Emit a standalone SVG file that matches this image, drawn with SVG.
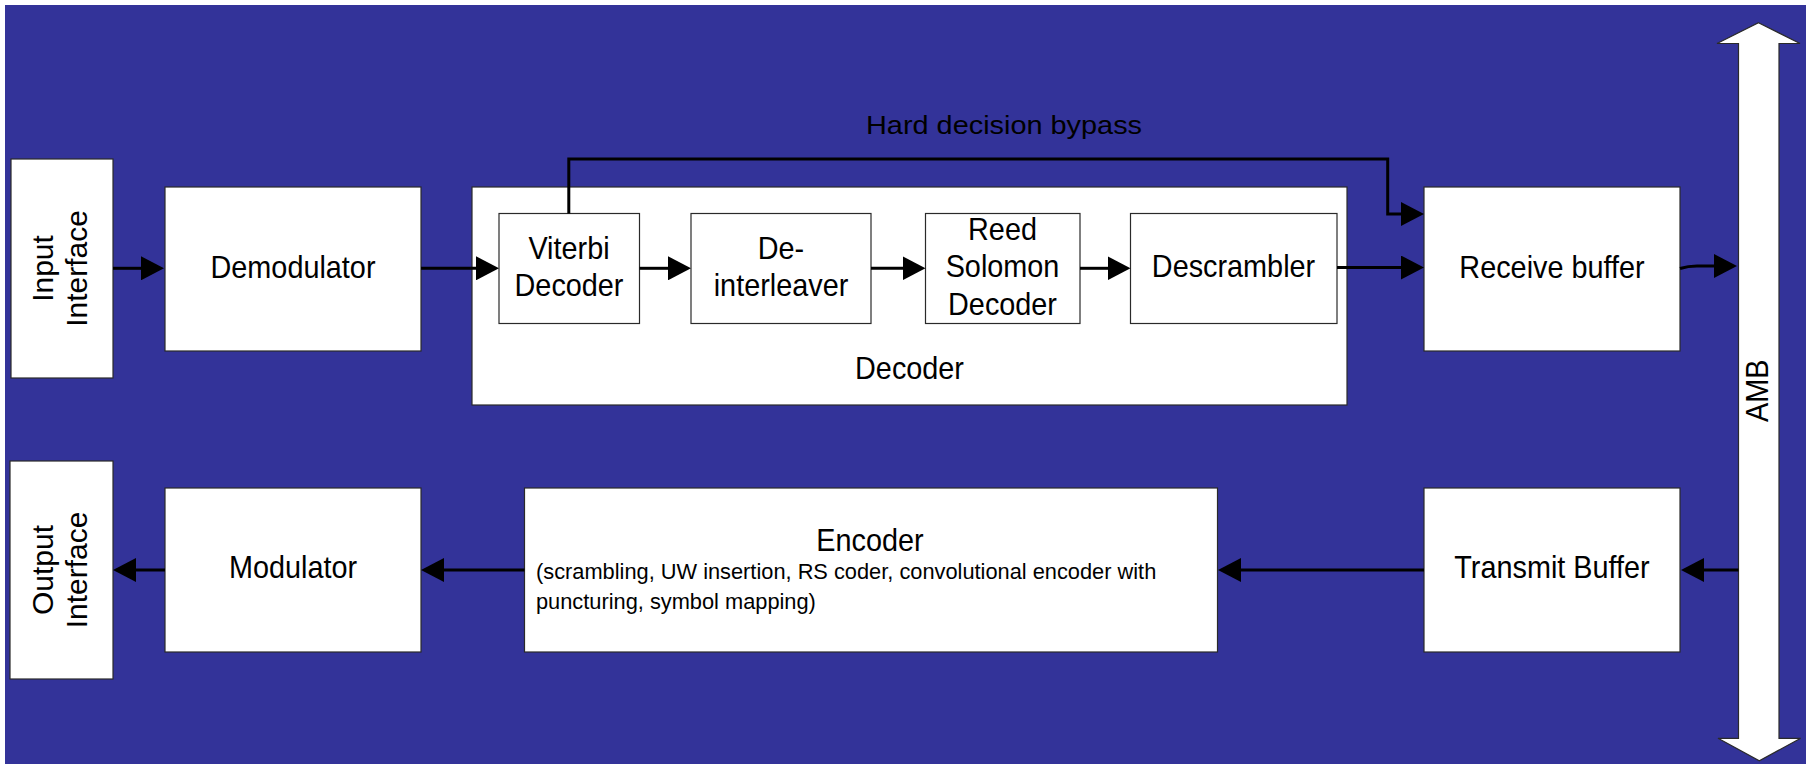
<svg xmlns="http://www.w3.org/2000/svg" width="1812" height="764" viewBox="0 0 1812 764">
  <style>
    .box { fill: #ffffff; stroke: #2a2a2a; stroke-width: 1.2; }
    .lbl { font-family: "Liberation Sans", Arial, sans-serif; font-size: 31px; fill: #000; text-anchor: middle; }
    .rot { font-family: "Liberation Sans", Arial, sans-serif; font-size: 30px; fill: #000; text-anchor: middle; }
    .note { font-family: "Liberation Sans", Arial, sans-serif; font-size: 21.8px; fill: #000; }
    .wire { fill: none; stroke: #000; stroke-width: 3; marker-end: url(#head); }
  </style>
  <defs>
    <marker id="head" markerUnits="userSpaceOnUse" markerWidth="24" markerHeight="24" refX="3" refY="12" orient="auto">
      <path d="M0,0 L23,12 L0,24 Z" fill="#000"/>
    </marker>
  </defs>

  <!-- page background -->
  <rect x="0" y="0" width="1812" height="764" fill="#ffffff"/>
  <rect x="5" y="5" width="1801" height="759" fill="#333399"/>

  <!-- AMB bus: double-headed block arrow -->
  <g id="amb">
    <polygon points="1758.5,22.7 1800,43.5 1779,43.5 1779,738.3 1800.7,738.3 1759.3,760.7 1718,738.3 1738.5,738.3 1738.5,43.5 1717,43.5" fill="#ffffff" stroke="#2a2a2a" stroke-width="1.2"/>
    <text class="lbl" transform="translate(1768.3,390.8) rotate(-90) scale(0.93,1)">AMB</text>
  </g>

  <g id="input-interface">
    <rect class="box" x="11" y="159" width="102" height="219"/>
    <text class="rot" transform="translate(53,268.5) rotate(-90)">Input<tspan x="0" dy="33.5">Interface</tspan></text>
  </g>

  <g id="demodulator">
    <rect class="box" x="165" y="187" width="256" height="164"/>
    <text class="lbl" transform="translate(293,277.5) scale(0.93,1)">Demodulator</text>
  </g>

  <g id="decoder">
    <rect class="box" x="472" y="187" width="875" height="218"/>
    <text class="lbl" transform="translate(909.5,379) scale(0.93,1)">Decoder</text>
  </g>

  <g id="viterbi-decoder">
    <rect class="box" x="499" y="213.5" width="140.5" height="110"/>
    <text class="lbl" transform="translate(569,259) scale(0.93,1)">Viterbi<tspan x="0" dy="37">Decoder</tspan></text>
  </g>

  <g id="deinterleaver">
    <rect class="box" x="691" y="213.5" width="180" height="110"/>
    <text class="lbl" transform="translate(781,258.5) scale(0.93,1)">De-<tspan x="0" dy="37.5">interleaver</tspan></text>
  </g>

  <g id="reed-solomon-decoder">
    <rect class="box" x="925.5" y="213.5" width="154.5" height="110"/>
    <text class="lbl" transform="translate(1002.5,240) scale(0.93,1)">Reed<tspan x="0" dy="37.5">Solomon</tspan><tspan x="0" dy="37.5">Decoder</tspan></text>
  </g>

  <g id="descrambler">
    <rect class="box" x="1130.5" y="213.5" width="206.5" height="110"/>
    <text class="lbl" transform="translate(1233.5,277) scale(0.93,1)">Descrambler</text>
  </g>

  <g id="receive-buffer">
    <rect class="box" x="1424" y="187" width="256" height="164"/>
    <text class="lbl" transform="translate(1552,278.3) scale(0.93,1)">Receive buffer</text>
  </g>

  <g id="output-interface">
    <rect class="box" x="10" y="461" width="103" height="218"/>
    <text class="rot" transform="translate(53,570) rotate(-90)">Output<tspan x="0" dy="33.5">Interface</tspan></text>
  </g>

  <g id="modulator">
    <rect class="box" x="165" y="488" width="256" height="164"/>
    <text class="lbl" transform="translate(293,578.3) scale(0.93,1)">Modulator</text>
  </g>

  <g id="encoder">
    <rect class="box" x="524.5" y="488" width="693" height="164"/>
    <text class="lbl" transform="translate(870,551) scale(0.93,1)">Encoder</text>
    <text class="note" x="536" y="579">(scrambling, UW insertion, RS coder, convolutional encoder with<tspan x="536" dy="29.5">puncturing, symbol mapping)</tspan></text>
  </g>

  <g id="transmit-buffer">
    <rect class="box" x="1424" y="488" width="256" height="164"/>
    <text class="lbl" transform="translate(1552,578.3) scale(0.93,1)">Transmit Buffer</text>
  </g>

  <!-- bypass label -->
  <text id="bypass-label" class="lbl" transform="translate(1004,134.3) scale(1.09,1)" style="font-size:26.5px">Hard decision bypass</text>

  <g id="connectors">
    <path class="wire" d="M113,268.3 L144,268.3"/>
    <path class="wire" d="M421,268.3 L479,268.3"/>
    <path class="wire" d="M639.5,268.3 L671,268.3"/>
    <path class="wire" d="M871,268.3 L905.5,268.3"/>
    <path class="wire" d="M1080,268.3 L1110.5,268.3"/>
    <path class="wire" d="M1337,267.5 L1404,267.5"/>
    <path class="wire" d="M568.8,213.5 L568.8,159 L1387.7,159 L1387.7,214 L1404,214"/>
    <path class="wire" d="M1680,268.5 Q1688,266 1697,266 L1717,266"/>
    <path class="wire" d="M1738.5,570 L1701,570"/>
    <path class="wire" d="M1424,570 L1238,570"/>
    <path class="wire" d="M524.5,570 L441,570"/>
    <path class="wire" d="M165,570 L133,570"/>
  </g>
</svg>
